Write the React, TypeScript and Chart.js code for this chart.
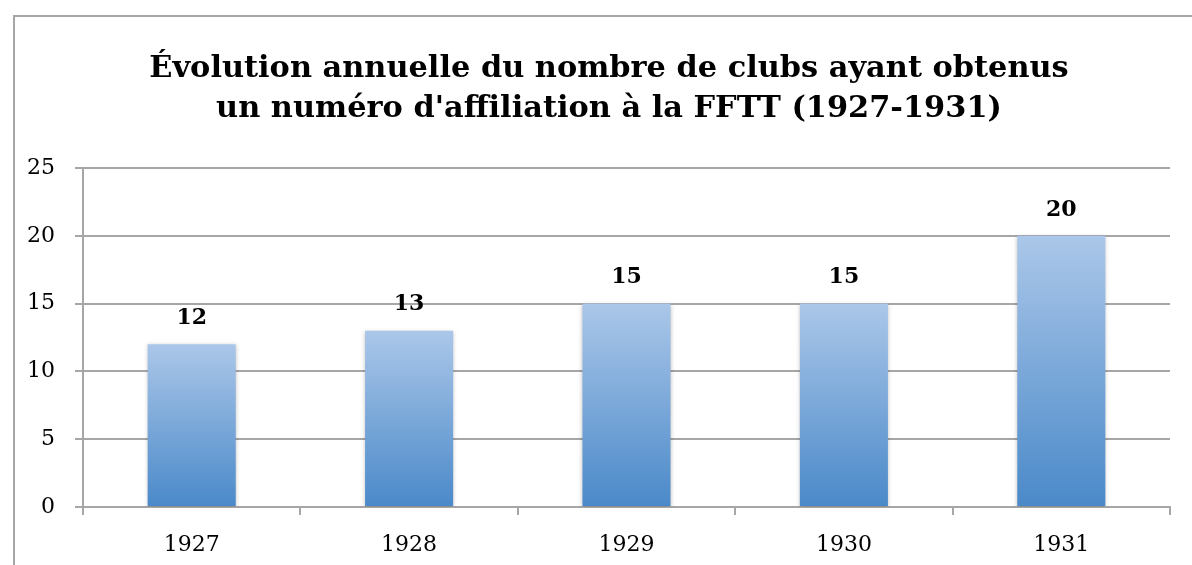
import React, { useEffect, useRef } from "react";
import { Chart, registerables } from "chart.js";

Chart.register(...registerables);

const categories = ["1927", "1928", "1929", "1930", "1931"];
const clubValues = [12, 13, 15, 15, 20];
const titleLines = [
  "Évolution annuelle du nombre de clubs ayant obtenus",
  "un numéro d'affiliation à la FFTT (1927-1931)",
];

const SERIF = "'DejaVu Serif', 'Liberation Serif', serif";

const titlePlugin = {
  id: "customTitle",
  afterDraw(chart: any) {
    const ctx = chart.ctx;
    ctx.save();
    ctx.font = `bold 30.4px ${SERIF}`;
    ctx.fillStyle = "#000";
    ctx.textAlign = "center";
    ctx.textBaseline = "middle";
    const cx = chart.width / 2;
    titleLines.forEach((line, i) => {
      ctx.fillText(line, cx, 52 + i * 40);
    });
    ctx.restore();
  },
};

const valueLabelPlugin = {
  id: "valueLabels",
  afterDatasetsDraw(chart: any) {
    const ctx = chart.ctx;
    const meta = chart.getDatasetMeta(0);
    ctx.save();
    ctx.font = `bold 22px ${SERIF}`;
    ctx.fillStyle = "#000";
    ctx.textAlign = "center";
    ctx.textBaseline = "middle";
    meta.data.forEach((bar: any, i: number) => {
      ctx.fillText(String(chart.data.datasets[0].data[i]), bar.x, bar.y - 26);
    });
    ctx.restore();
  },
};

const shadowPlugin = {
  id: "barShadow",
  beforeDatasetDraw(chart: any) {
    const ctx = chart.ctx;
    ctx.save();
    ctx.shadowColor = "rgba(0,0,0,0.25)";
    ctx.shadowBlur = 4;
    ctx.shadowOffsetX = 0;
    ctx.shadowOffsetY = 1;
  },
  afterDatasetDraw(chart: any) {
    chart.ctx.restore();
  },
};

export default function App() {
  const canvasRef = useRef<HTMLCanvasElement | null>(null);

  useEffect(() => {
    const canvas = canvasRef.current;
    if (!canvas) return;
    const chart = new Chart(canvas, {
      type: "bar",
      data: {
        labels: categories,
        datasets: [
          {
            data: clubValues,
            backgroundColor: (c: any) => {
              const ch = c.chart;
              const ys = ch.scales && ch.scales.y;
              if (!ys || c.raw === undefined) return "#7aa6da";
              const top = ys.getPixelForValue(c.raw);
              const bottom = ys.getPixelForValue(0);
              if (!isFinite(top) || !isFinite(bottom) || top === bottom) return "#7aa6da";
              const g = ch.ctx.createLinearGradient(0, top, 0, bottom);
              g.addColorStop(0, "#abc7e9");
              g.addColorStop(1, "#4a89c9");
              return g;
            },
            borderWidth: 0,
            barPercentage: 0.405,
            categoryPercentage: 1,
          },
        ],
      },
      options: {
        animation: false,
        responsive: false,
        maintainAspectRatio: false,
        layout: { padding: { left: 0, right: 33, bottom: 0, top: 151 } },
        plugins: {
          legend: { display: false },
          tooltip: { enabled: false },
          title: { display: false },
        },
        scales: {
          x: {
            afterFit: (scale: any) => {
              scale.height = 58;
            },
            grid: {
              drawOnChartArea: false,
              drawTicks: true,
              tickLength: 8,
              color: "#a6a6a6",
              lineWidth: 2,
            },
            border: { color: "#a6a6a6", width: 2 },
            ticks: {
              color: "#000",
              font: { family: SERIF, size: 22 },
              padding: 17,
            },
          },
          y: {
            min: 0,
            max: 25,
            afterFit: (scale: any) => {
              scale.width = 68;
            },
            ticks: {
              stepSize: 5,
              color: "#000",
              font: { family: SERIF, size: 22 },
              padding: 20,
            },
            grid: {
              color: "#a6a6a6",
              lineWidth: 2,
              tickLength: 8,
            },
            border: { color: "#a6a6a6", width: 2 },
          },
        },
      },
      plugins: [shadowPlugin, valueLabelPlugin, titlePlugin],
    });
    return () => chart.destroy();
  }, []);

  return (
    <div
      style={{
        position: "fixed",
        left: 0,
        top: 0,
        width: 1192,
        height: 565,
        overflow: "hidden",
        background: "#fff",
      }}
    >
      <div
        style={{
          position: "absolute",
          left: 13,
          top: 15,
          width: 1250,
          height: 600,
          border: "2px solid #a6a6a6",
          boxSizing: "border-box",
        }}
      />
      <canvas
        ref={canvasRef}
        width={1188}
        height={548}
        style={{ position: "absolute", left: 15, top: 17, width: 1188, height: 548 }}
      />
    </div>
  );
}
